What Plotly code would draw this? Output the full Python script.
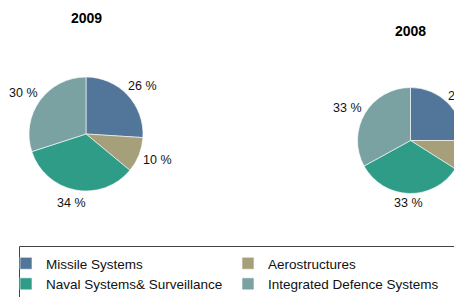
import math
import plotly.graph_objects as go

categories = ["Missile Systems", "Aerostructures", "Naval Systems& Surveillance", "Integrated Defence Systems"]
values_2009 = [26, 10, 34, 30]
values_2008 = [25, 9, 33, 33]
years = ["2009", "2008"]
colors = ["#52769A", "#A5A07A", "#2E9C87", "#7AA2A3"]

W, H = 490, 297  # figure is wider than the 454px window; right part is clipped like the reference
FONT = "Liberation Sans, Arial"

# pie geometry in pixels: centre x, centre y, radius, label ellipse (a, b)
pies = [
    dict(vals=values_2009, year=years[0], cx=86, cy=134, r=57, a=77, b=70, ty=18, legend=True),
    dict(vals=values_2008, year=years[1], cx=410.5, cy=140.5, r=53, a=73, b=63, ty=31, legend=False),
]

fig = go.Figure()
for p in pies:
    cx, cy, r = p["cx"], p["cy"], p["r"]
    fig.add_trace(go.Pie(
        labels=categories, values=p["vals"], sort=False, direction="clockwise", rotation=0,
        marker=dict(colors=colors, line=dict(color="white", width=0.6)),
        textinfo="none",
        domain=dict(x=[(cx - r) / W, (cx + r) / W], y=[(H - cy - r) / H, (H - cy + r) / H]),
        showlegend=p["legend"], hoverinfo="skip", automargin=False,
    ))
    fig.add_annotation(text="<b>" + p["year"] + "</b>", x=cx / W, y=1 - p["ty"] / H,
                       xref="paper", yref="paper", xanchor="center", yanchor="middle",
                       showarrow=False, font=dict(family=FONT, size=14, color="black"))
    total = sum(p["vals"])
    cum = 0
    for v in p["vals"]:
        mid = (cum + v / 2) / total * 2 * math.pi
        cum += v
        lx = cx + p["a"] * math.sin(mid)
        ly = cy - p["b"] * math.cos(mid)
        fig.add_annotation(text=f"{v} %", x=lx / W, y=1 - ly / H, xref="paper", yref="paper",
                           xanchor="center", yanchor="middle", showarrow=False,
                           font=dict(family=FONT, size=12.5, color="#111"))

fig.add_shape(type="rect", xref="paper", yref="paper", x0=19.5 / W, x1=1.05, y0=-0.05, y1=1 - 246.5 / H,
              line=dict(color="#444", width=1), fillcolor="rgba(0,0,0,0)")

fig.update_layout(
    width=W, height=H, margin=dict(l=0, r=0, t=0, b=0, autoexpand=False),
    paper_bgcolor="white", plot_bgcolor="white",
    legend=dict(orientation="h", x=6 / W, y=1 - 248 / H, xanchor="left", yanchor="top",
                entrywidth=177, entrywidthmode="pixels", traceorder="normal",
                font=dict(family=FONT, size=13.5, color="#111"),
                bgcolor="rgba(0,0,0,0)", itemwidth=30, tracegroupgap=0),
)
fig.write_html(
    "out.html",
    config={"displayModeBar": False},
    post_script="document.body.style.margin='0';document.body.style.overflow='hidden';"
                "document.documentElement.style.overflow='hidden';",
)
